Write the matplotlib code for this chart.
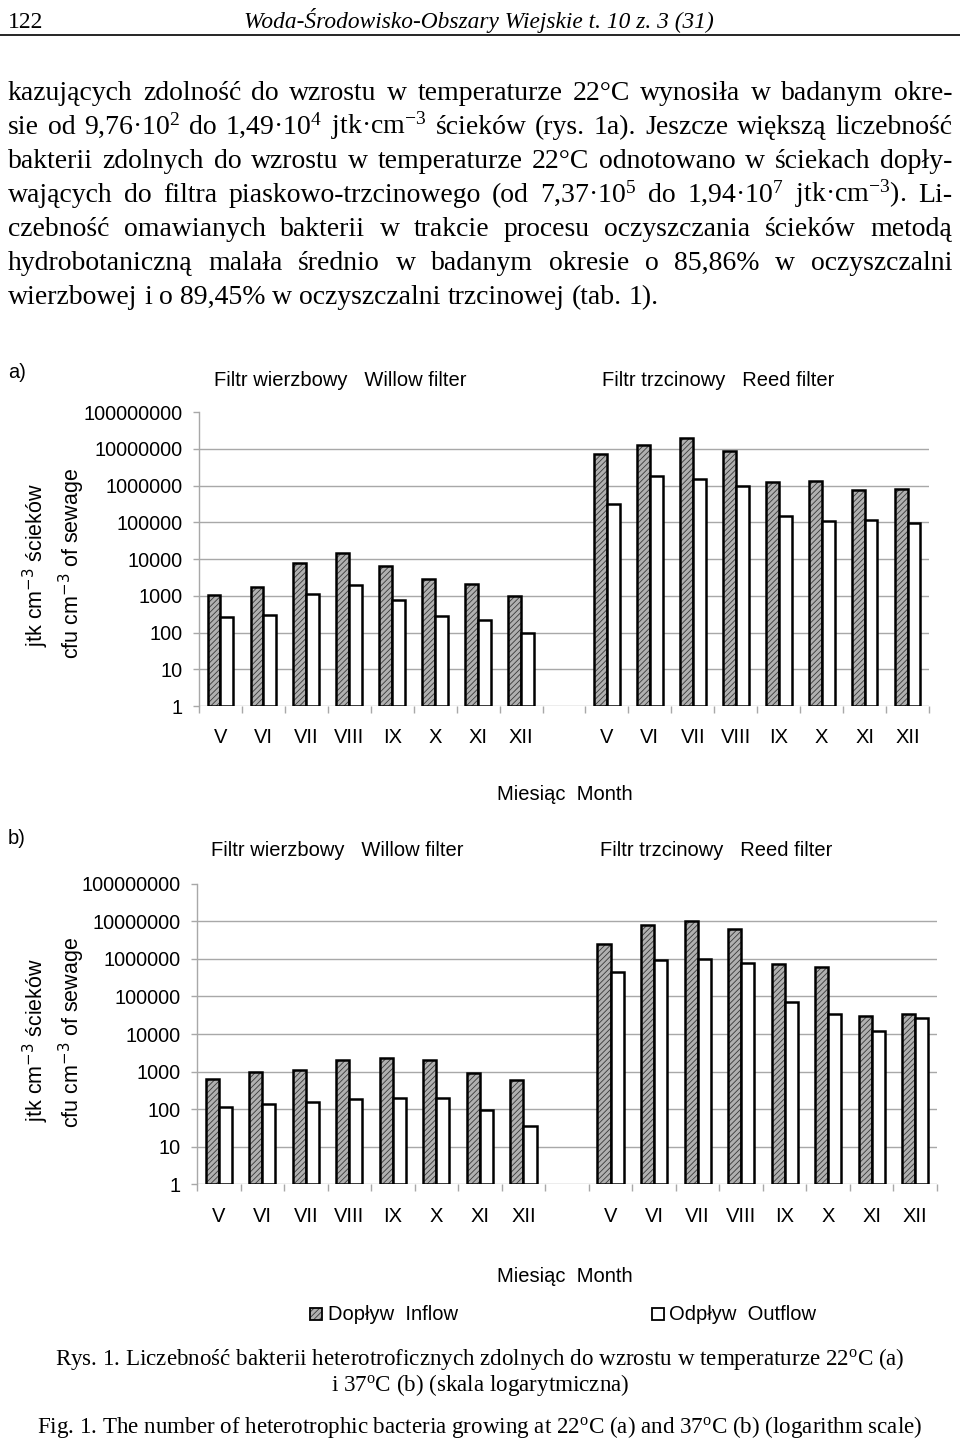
import matplotlib
matplotlib.use('Agg')
import matplotlib.pyplot as plt
from matplotlib.patches import Rectangle
import numpy as np

plt.rcParams['font.family'] = ['Liberation Sans', 'DejaVu Sans']
plt.rcParams['mathtext.fontset'] = 'custom'
plt.rcParams['mathtext.rm'] = 'Liberation Serif'
plt.rcParams['mathtext.it'] = 'Liberation Serif:italic'
plt.rcParams['hatch.linewidth'] = 0.6

W, H = 960, 1440

# --- data (jtk/cfu per cm3) ---
months = ['V', 'VI', 'VII', 'VIII', 'IX', 'X', 'XI', 'XII']
ytick_vals = [1, 10, 100, 1e3, 1e4, 1e5, 1e6, 1e7, 1e8]
ytick_labels = ['1', '10', '100', '1000', '10000', '100000', '1000000',
                '10000000', '100000000']

# a) 22 C
willow_in_22 = [1050, 1740, 7590, 14900, 6460, 2820, 2040, 976]
willow_out_22 = [269, 295, 1150, 1910, 759, 282, 214, 95]
reed_in_22 = [7.08e6, 1.29e7, 1.94e7, 8.9e6, 1.26e6, 1.32e6, 7.37e5, 8.1e5]
reed_out_22 = [3.1e5, 1.82e6, 1.55e6, 9.8e5, 1.45e5, 1.1e5, 1.17e5, 9.5e4]

# b) 37 C
willow_in_37 = [630, 955, 1120, 2000, 2340, 2000, 890, 600]
willow_out_37 = [117, 141, 158, 182, 195, 204, 95, 36]
reed_in_37 = [2.45e6, 7.76e6, 1.02e7, 6.3e6, 7.4e5, 6.0e5, 3.1e4, 3.5e4]
reed_out_37 = [4.47e5, 9.5e5, 1.0e6, 7.6e5, 6.9e4, 3.5e4, 1.2e4, 2.6e4]

body_lines = [
    "kazujących zdolność do wzrostu w temperaturze 22°C wynosiła w badanym okre-",
    "sie od 9,76·10$^2$ do 1,49·10$^4$ jtk·cm$^{-3}$ ścieków (rys. 1a). Jeszcze większą liczebność",
    "bakterii zdolnych do wzrostu w temperaturze 22°C odnotowano w ściekach dopły-",
    "wających do filtra piaskowo-trzcinowego (od 7,37·10$^5$ do 1,94·10$^7$ jtk·cm$^{-3}$). Li-",
    "czebność omawianych bakterii w trakcie procesu oczyszczania ścieków metodą",
    "hydrobotaniczną malała średnio w badanym okresie o 85,86% w oczyszczalni",
    "wierzbowej i o 89,45% w oczyszczalni trzcinowej (tab. 1).",
]

SERIF = ['Liberation Serif', 'DejaVu Serif']
DARK = '#b0b0b0'
HATCH = '#383838'
GRID = '#a8a8a8'
BODY_FS = 20

fig = plt.figure(figsize=(9.6, 14.4), dpi=100)


def px(x, y):
    return x / W, 1 - y / H


def t(x, y, s, **kw):
    kw.setdefault('fontsize', 14.5)
    return fig.text(*px(x, y), s, **kw)


# header
t(8, 28, '122', family=SERIF, fontsize=17, va='baseline')
t(479, 28, 'Woda-Środowisko-Obszary Wiejskie t. 10 z. 3 (31)', family=SERIF,
  style='italic', fontsize=16.8, ha='center', va='baseline')
fig.add_artist(plt.Line2D([0, 1], [1 - 35 / H] * 2, color='black', lw=1.2))

# justified body text
renderer = fig.canvas.get_renderer()
left, right = 8, 952
for i, line in enumerate(body_lines):
    yb = 100 + 34 * i
    words = line.split(' ')
    fs = BODY_FS
    while True:
        objs = [t(0, yb, w, family=SERIF, fontsize=fs, va='baseline') for w in words]
        widths = [o.get_window_extent(renderer).width for o in objs]
        gap = (right - left - sum(widths)) / (len(words) - 1)
        if i == len(body_lines) - 1 or gap >= 0.2 * fs * 100 / 72:
            break
        for o in objs:
            o.remove()
        fs -= 0.25
    if i == len(body_lines) - 1:
        gap = 0.25 * fs * 100 / 72
    x = left
    for o, wd in zip(objs, widths):
        o.set_position(px(x, yb))
        x += wd + gap


def panel(rect, inflow_l, outflow_l, inflow_r, outflow_r):
    ax = fig.add_axes(rect)
    xl = np.arange(8)
    xr = np.arange(9, 17)
    bw = 0.3
    for xs, vin, vout in ((xl, inflow_l, outflow_l), (xr, inflow_r, outflow_r)):
        vin = np.array(vin)
        vout = np.array(vout)
        ax.bar(xs - 0.15, vin - 1, bw, bottom=1, color=DARK, hatch='//////',
               edgecolor=HATCH, linewidth=0, zorder=3)
        ax.bar(xs - 0.15, vin - 1, bw, bottom=1, facecolor='none',
               edgecolor='black', linewidth=1.8, zorder=4)
        ax.bar(xs + 0.15, vout - 1, bw, bottom=1, color='white',
               edgecolor='black', linewidth=1.8, zorder=4)
    ax.set_yscale('log')
    ax.set_ylim(1, 1e8)
    ax.set_xlim(-0.5, 16.5)
    ax.set_yticks(ytick_vals)
    ax.set_yticklabels(ytick_labels)
    ax.yaxis.set_minor_locator(plt.NullLocator())
    for yv in ytick_vals[:-1]:
        ax.axhline(yv, color=GRID, lw=1.0, zorder=1)
    ax.set_xticks(list(xl) + list(xr))
    ax.set_xticklabels(months + months)
    ax.set_xticks(np.arange(-0.5, 17, 1), minor=True)
    ax.tick_params(axis='x', which='major', length=0, pad=16, labelsize=14.5)
    ax.tick_params(axis='x', which='minor', length=5, width=1.0, color=GRID)
    ax.tick_params(axis='y', length=4.5, width=1.0, color=GRID, pad=7,
                   labelsize=14.3)
    for s in ('top', 'right', 'bottom'):
        ax.spines[s].set_visible(False)
    ax.spines['left'].set_color(GRID)
    ax.spines['left'].set_linewidth(1.0)
    return ax


# chart a)
panel([199 / W, 1 - 706 / H, 730 / W, 294 / H],
      willow_in_22, willow_out_22, reed_in_22, reed_out_22)
t(8, 372, 'a)', va='center')
t(340, 380, 'Filtr wierzbowy   Willow filter', ha='center', va='center')
t(718, 380, 'Filtr trzcinowy   Reed filter', ha='center', va='center')
t(36, 565, 'jtk cm$^{-3}$ ścieków', rotation=90, ha='center', va='center',
  fontsize=15.5, math_fontfamily='dejavusans')
t(72, 563, 'cfu cm$^{-3}$ of sewage', rotation=90, ha='center', va='center',
  fontsize=15.5, math_fontfamily='dejavusans')
t(565, 795, 'Miesiąc  Month', ha='center', va='center')

# chart b)
panel([197 / W, 1 - 1184.3 / H, 740 / W, 300.6 / H],
      willow_in_37, willow_out_37, reed_in_37, reed_out_37)
t(8, 838, 'b)', va='center')
t(337, 851, 'Filtr wierzbowy   Willow filter', ha='center', va='center')
t(716, 851, 'Filtr trzcinowy   Reed filter', ha='center', va='center')
t(36, 1040, 'jtk cm$^{-3}$ ścieków', rotation=90, ha='center', va='center',
  fontsize=15.5, math_fontfamily='dejavusans')
t(72, 1032, 'cfu cm$^{-3}$ of sewage', rotation=90, ha='center', va='center',
  fontsize=15.5, math_fontfamily='dejavusans')
t(565, 1276, 'Miesiąc  Month', ha='center', va='center')

# legend
x0, y0 = px(310, 1320)
fig.add_artist(Rectangle((x0, y0), 12 / W, 12 / H, transform=fig.transFigure,
                         facecolor=DARK, hatch='//////', edgecolor=HATCH, lw=0))
fig.add_artist(Rectangle((x0, y0), 12 / W, 12 / H, transform=fig.transFigure,
                         facecolor='none', edgecolor='black', lw=1.3))
t(328, 1314, 'Dopływ  Inflow', va='center')
x1, _ = px(652, 1320)
fig.add_artist(Rectangle((x1, y0), 12 / W, 12 / H, transform=fig.transFigure,
                         facecolor='white', edgecolor='black', lw=1.3))
t(669, 1314, 'Odpływ  Outflow', va='center')

# caption
t(480, 1359, 'Rys. 1. Liczebność bakterii heterotroficznych zdolnych do wzrostu '
  'w temperaturze 22$^{\\mathrm{o}}$C (a)', family=SERIF, fontsize=16.6,
  ha='center', va='center')
t(480, 1385, 'i 37$^{\\mathrm{o}}$C (b) (skala logarytmiczna)', family=SERIF,
  fontsize=16.6, ha='center', va='center')
t(480, 1427, 'Fig. 1. The number of heterotrophic bacteria growing at '
  '22$^{\\mathrm{o}}$C (a) and 37$^{\\mathrm{o}}$C (b) (logarithm scale)',
  family=SERIF, fontsize=16.6, ha='center', va='center')

fig.savefig('out.png', dpi=100)
